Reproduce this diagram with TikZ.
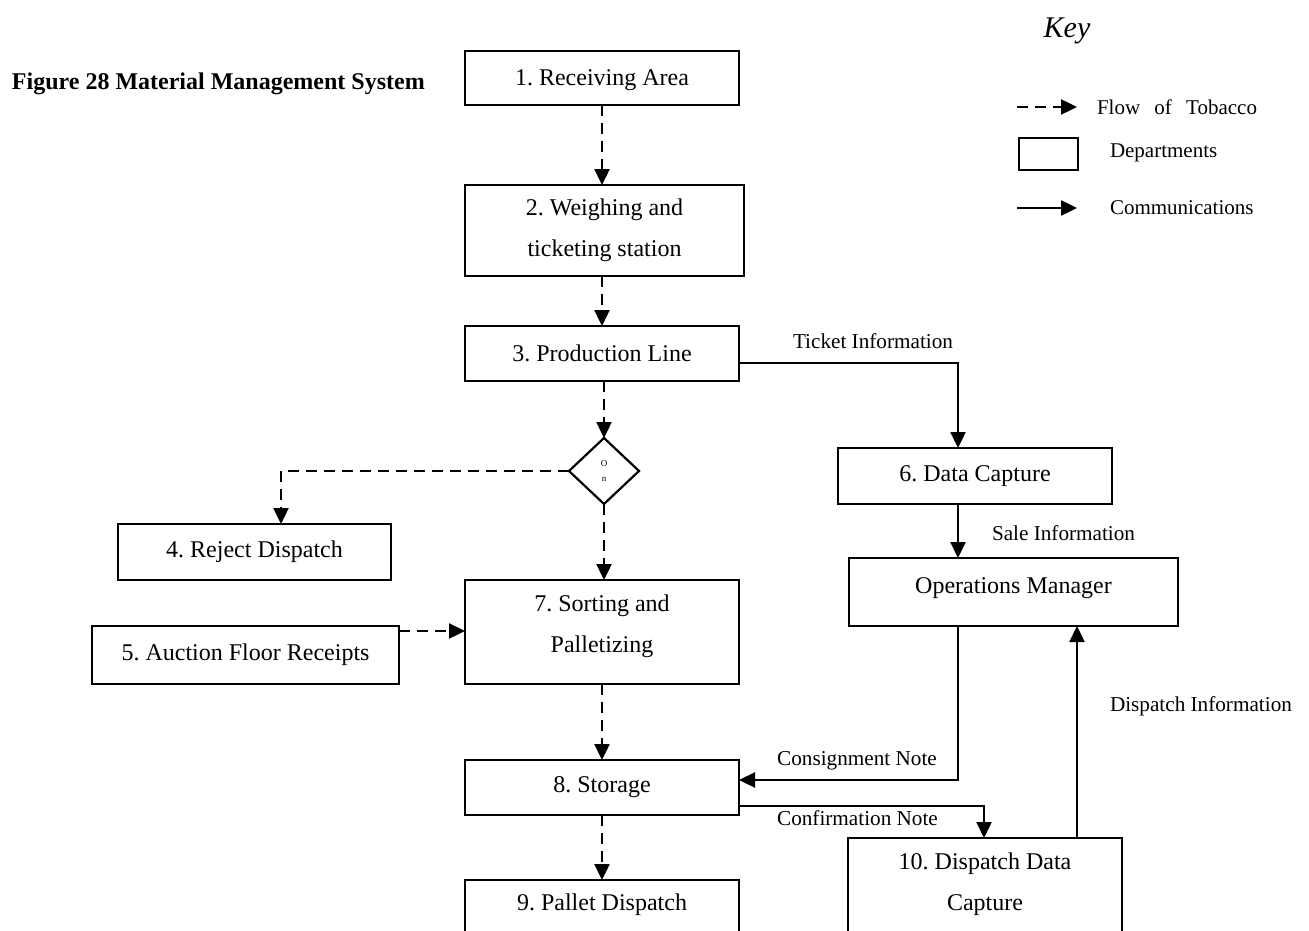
\documentclass[tikz,border=0pt]{standalone}
\usepackage{fontspec}
\setmainfont{Liberation Serif}
\usetikzlibrary{arrows.meta,shapes.geometric}
\frenchspacing
\begin{document}
\begin{tikzpicture}[x=1pt,y=-1pt,
  every node/.style={inner sep=0pt, outer sep=0pt},
  dept/.style={draw, line width=2.2pt, font=\fontsize{24}{41}\selectfont, align=center},
  dtext/.style={font=\fontsize{24}{41}\selectfont, align=center},
  flow/.style={line width=2.4pt, dash pattern=on 11pt off 7pt, -{Triangle[length=16pt,width=15pt]}},
  comm/.style={line width=2.4pt, -{Triangle[length=16pt,width=15pt]}},
  lbl/.style={font=\fontsize{21.2}{24}\selectfont},
  keylbl/.style={font=\fontsize{21}{24}\selectfont, anchor=west},
]
\useasboundingbox (0,0) rectangle (1309,931);
\clip (0,0) rectangle (1309,931);

% title
\node[font=\fontsize{24}{28}\selectfont\bfseries, anchor=west] (title) at (12,84) {Figure 28 Material Management System};

% departments
\node[dept, minimum width=274pt, minimum height=54pt] (b1) at (602,78) {};
\node[dtext] (t1t) at (602,80) {1. Receiving Area};
\node[dept, minimum width=279pt, minimum height=91pt] (b2) at (604.5,230.5) {2. Weighing and\\ticketing station};
\node[dept, minimum width=274pt, minimum height=55pt] (b3) at (602,353.5) {3. Production Line};
\node[draw, diamond, line width=2.2pt, minimum width=70pt, minimum height=66pt, font=\fontsize{9}{15}\selectfont, align=center] (d) at (604,471) {O\\n};
\node[dept, minimum width=273pt, minimum height=56pt] (b4) at (254.5,552) {4. Reject Dispatch};
\node[dept, minimum width=307pt, minimum height=58pt] (b5) at (245.5,655) {5. Auction Floor Receipts};
\node[dept, minimum width=274pt, minimum height=104pt] (b7) at (602,632) {};
\node[dtext] (t7) at (602,626.5) {7. Sorting and\\Palletizing};
\node[dept, minimum width=274pt, minimum height=55pt] (b8) at (602,787.5) {8. Storage};
\node[dept, minimum width=274pt, minimum height=60pt] (b9) at (602,910) {};
\node[dtext] (t9) at (602,905) {9. Pallet Dispatch};
\node[dept, minimum width=274pt, minimum height=56pt] (b6) at (975,476) {6. Data Capture};
\node[dept, minimum width=329pt, minimum height=68pt] (om) at (1013.5,592) {};
\node[dtext] (tom) at (1013.5,588) {Operations Manager};
\node[dept, minimum width=274pt, minimum height=102pt] (b10) at (985,889) {};
\node[dtext] (t10) at (985,884.5) {10. Dispatch Data\\Capture};

% flow of tobacco
\draw[flow] (b1.south) -- (b1.south |- b2.north);
\draw[flow] (b1.south |- b2.south) -- (b1.south |- b3.north);
\draw[flow] (d.north |- b3.south) -- (d.north);
\coordinate (j4) at (281,471);
\draw[flow] (d.west) -- (j4) -- (j4 |- b4.north);
\draw[flow] (d.south) -- (d.south |- b7.north);
\draw[flow] ([yshift=-5pt]b5.north east) -- ([yshift=-5pt]b5.north east -| b7.west);
\draw[flow] (b7.south) -- (b8.north);
\draw[flow] (b8.south) -- (b9.north);

% communications
\coordinate (t1) at (958,363);
\draw[comm] (b3.east |- t1) -- (t1) -- (t1 |- b6.north);
\draw[comm] (t1 |- b6.south) -- (t1 |- om.north);
\coordinate (c1) at (958,780);
\draw[comm] (t1 |- om.south) -- (c1) -- (c1 -| b8.east);
\coordinate (c2) at (984,806);
\draw[comm] (c2 -| b8.east) -- (c2) -- (c2 |- b10.north);
\coordinate (c3) at (1077,700);
\draw[comm] (c3 |- b10.north) -- (c3 |- om.south);

% labels
\node[lbl] (l1) at (873,341) {Ticket Information};
\node[lbl, anchor=west] (l2) at (992,533) {Sale Information};
\node[lbl] (l3) at (857,761) {Consignment Note};
\node[lbl] (l4) at (857.5,818) {Confirmation Note};
\node[lbl, anchor=west] (l5) at (1110,706) {Dispatch Information};

% key
\node[font=\fontsize{30}{36}\selectfont\itshape] (key) at (1067,31) {Key};
\coordinate (k1) at (1017,107);
\coordinate (k1e) at (1077,107);
\draw[flow] (k1) -- (k1e);
\node[keylbl] (kf) at (1097,107) {Flow\hspace{9pt} of\hspace{9pt} Tobacco};
\node[draw, line width=2.2pt, minimum width=59pt, minimum height=32pt] (kd) at (1048.5,154) {};
\node[keylbl] (kdl) at (1110,153) {Departments};
\coordinate (k3) at (1017,208);
\coordinate (k3e) at (1077,208);
\draw[comm] (k3) -- (k3e);
\node[keylbl] (kcl) at (1110,208) {Communications};
\end{tikzpicture}
\end{document}
